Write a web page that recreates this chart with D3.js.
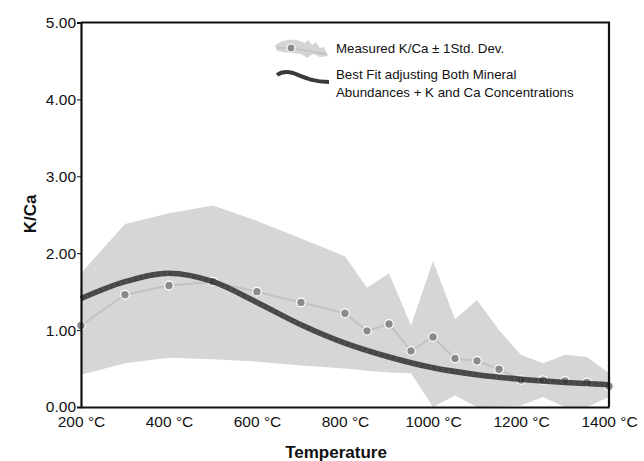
<!DOCTYPE html>
<html>
<head>
<meta charset="utf-8">
<script src="https://cdn.jsdelivr.net/npm/d3@7"></script>
<style>
  body { margin: 0; background: #fff; }
  svg text { font-family: "Liberation Sans", Arial, sans-serif; fill: #111; }
</style>
</head>
<body>
<div id="chart"></div>
<script>
// K/Ca step heating: measured ratio with 1 sigma envelope and the best-fit model curve
var temps = [200, 300, 400, 500, 600, 700, 800, 850, 900, 950, 1000, 1050, 1100, 1150, 1200, 1250, 1300, 1350, 1400];
var measured = [1.06, 1.46, 1.58, 1.63, 1.50, 1.36, 1.22, 0.99, 1.08, 0.73, 0.91, 0.63, 0.60, 0.49, 0.35, 0.35, 0.34, 0.32, 0.27];
var upperSd = [1.74, 2.38, 2.52, 2.62, 2.42, 2.19, 1.96, 1.55, 1.74, 1.06, 1.90, 1.14, 1.39, 1.00, 0.68, 0.57, 0.68, 0.65, 0.44];
var lowerSd = [0.42, 0.57, 0.64, 0.62, 0.59, 0.54, 0.50, 0.47, 0.45, 0.44, 0.00, 0.15, 0.00, 0.01, 0.02, 0.13, 0.00, 0.00, 0.13];

var fitTemps = [200, 300, 400, 500, 600, 700, 800, 900, 1000, 1100, 1200, 1300, 1400];
var fitValues = [1.41, 1.63, 1.74, 1.63, 1.36, 1.07, 0.83, 0.65, 0.51, 0.42, 0.36, 0.32, 0.29];

var xTicks = [200, 400, 600, 800, 1000, 1200, 1400];
var yTicks = [0, 1, 2, 3, 4, 5];

var W = 644, H = 461;
var margin = { top: 22.5, right: 35, bottom: 54, left: 81 };
var width = W - margin.left - margin.right,
    height = H - margin.top - margin.bottom;

var svg = d3.select("#chart").append("svg")
    .attr("width", W)
    .attr("height", H);

var g = svg.append("g")
    .attr("transform", "translate(" + margin.left + "," + margin.top + ")");

var x = d3.scaleLinear().domain([200, 1400]).range([0, width]);
var y = d3.scaleLinear().domain([0, 5]).range([height, 0]);

var rows = temps.map(function(t, i) {
    return { t: t, v: measured[i], hi: upperSd[i], lo: lowerSd[i] };
});
var fitRows = fitTemps.map(function(t, i) { return { t: t, v: fitValues[i] }; });

// std dev envelope
g.append("path")
    .datum(rows)
    .attr("fill", "#d6d6d6")
    .attr("d", d3.area()
        .x(function(d) { return x(d.t); })
        .y0(function(d) { return y(d.lo); })
        .y1(function(d) { return y(d.hi); }));

// measured line + dots
g.append("path")
    .datum(rows)
    .attr("fill", "none")
    .attr("stroke", "#c2c2c2")
    .attr("stroke-width", 2)
    .attr("d", d3.line()
        .x(function(d) { return x(d.t); })
        .y(function(d) { return y(d.v); }));

g.selectAll("circle.pt")
    .data(rows)
    .enter()
    .append("circle")
    .attr("class", "pt")
    .attr("cx", function(d) { return x(d.t); })
    .attr("cy", function(d) { return y(d.v); })
    .attr("r", 4.3)
    .attr("fill", "#8a8a8a")
    .attr("stroke", "#fff")
    .attr("stroke-width", 1.2);

// best fit curve, drawn over the dots
var fitLine = d3.line()
    .curve(d3.curveMonotoneX)
    .x(function(d) { return x(d.t); })
    .y(function(d) { return y(d.v); });

g.append("path")
    .datum(fitRows)
    .attr("fill", "none")
    .attr("stroke", "#2e2e2e")
    .attr("stroke-opacity", 0.85)
    .attr("stroke-width", 5.5)
    .attr("d", fitLine);

g.append("path")
    .datum(fitRows)
    .attr("fill", "none")
    .attr("stroke", "#5a5a5a")
    .attr("stroke-width", 4)
    .attr("stroke-dasharray", "1,5")
    .attr("d", fitLine);

// axes
var yAxis = g.append("g")
    .call(d3.axisLeft(y).tickValues(yTicks).tickFormat(d3.format(".2f")).tickSize(4).tickPadding(1));
var xAxis = g.append("g")
    .attr("transform", "translate(0," + height + ")")
    .call(d3.axisBottom(x).tickValues(xTicks).tickFormat(function(d) { return d + " °C"; }).tickSize(0).tickPadding(9));

[yAxis, xAxis].forEach(function(a) {
    a.select(".domain").attr("stroke", "#111").attr("stroke-width", 2.2);
    a.selectAll("text").style("font-size", "15.5px").attr("fill", "#111");
    a.selectAll(".tick line").attr("stroke", "#111");
});

// frame top and right
g.append("path")
    .attr("d", "M0,0H" + width + "V" + height)
    .attr("fill", "none")
    .attr("stroke", "#111")
    .attr("stroke-width", 2.2);

// axis titles
svg.append("text")
    .attr("x", 336)
    .attr("y", 458)
    .attr("text-anchor", "middle")
    .style("font-size", "17px")
    .style("font-weight", "bold")
    .text("Temperature");

svg.append("text")
    .attr("transform", "translate(36,214) rotate(-90)")
    .attr("text-anchor", "middle")
    .style("font-size", "17px")
    .style("font-weight", "bold")
    .text("K/Ca");

// legend
var leg = svg.append("g").attr("transform", "translate(275,39)");

leg.append("path")
    .attr("d", "M0,7 C5,2 12,0 22,1 L30,4 L33,1 L37,6 L41,3 L45,9 L49,8 L53,17 L45,18 L38,15 L32,19 L26,15 L17,14 L8,13 L2,12 Z")
    .attr("fill", "#d4d4d4");
leg.append("path")
    .attr("d", "M2,9 C10,8 20,10 52,15")
    .attr("fill", "none")
    .attr("stroke", "#c0c0c0")
    .attr("stroke-width", 1.5);
leg.append("circle")
    .attr("cx", 16).attr("cy", 9).attr("r", 4)
    .attr("fill", "#8a8a8a").attr("stroke", "#fff").attr("stroke-width", 1.2);

leg.append("path")
    .attr("d", "M2,36 C6,33 11,32 18,34 C28,38 38,43 54,43")
    .attr("fill", "none")
    .attr("stroke", "#3a3a3a")
    .attr("stroke-width", 4);

var legText = [
    { t: "Measured K/Ca ± 1Std. Dev.", y: 14 },
    { t: "Best Fit adjusting Both Mineral", y: 40 },
    { t: "Abundances + K and Ca Concentrations", y: 58 }
];
leg.selectAll("text.lt")
    .data(legText)
    .enter()
    .append("text")
    .attr("class", "lt")
    .attr("x", 61)
    .attr("y", function(d) { return d.y; })
    .style("font-size", "13.3px")
    .text(function(d) { return d.t; });
</script>
</body>
</html>
